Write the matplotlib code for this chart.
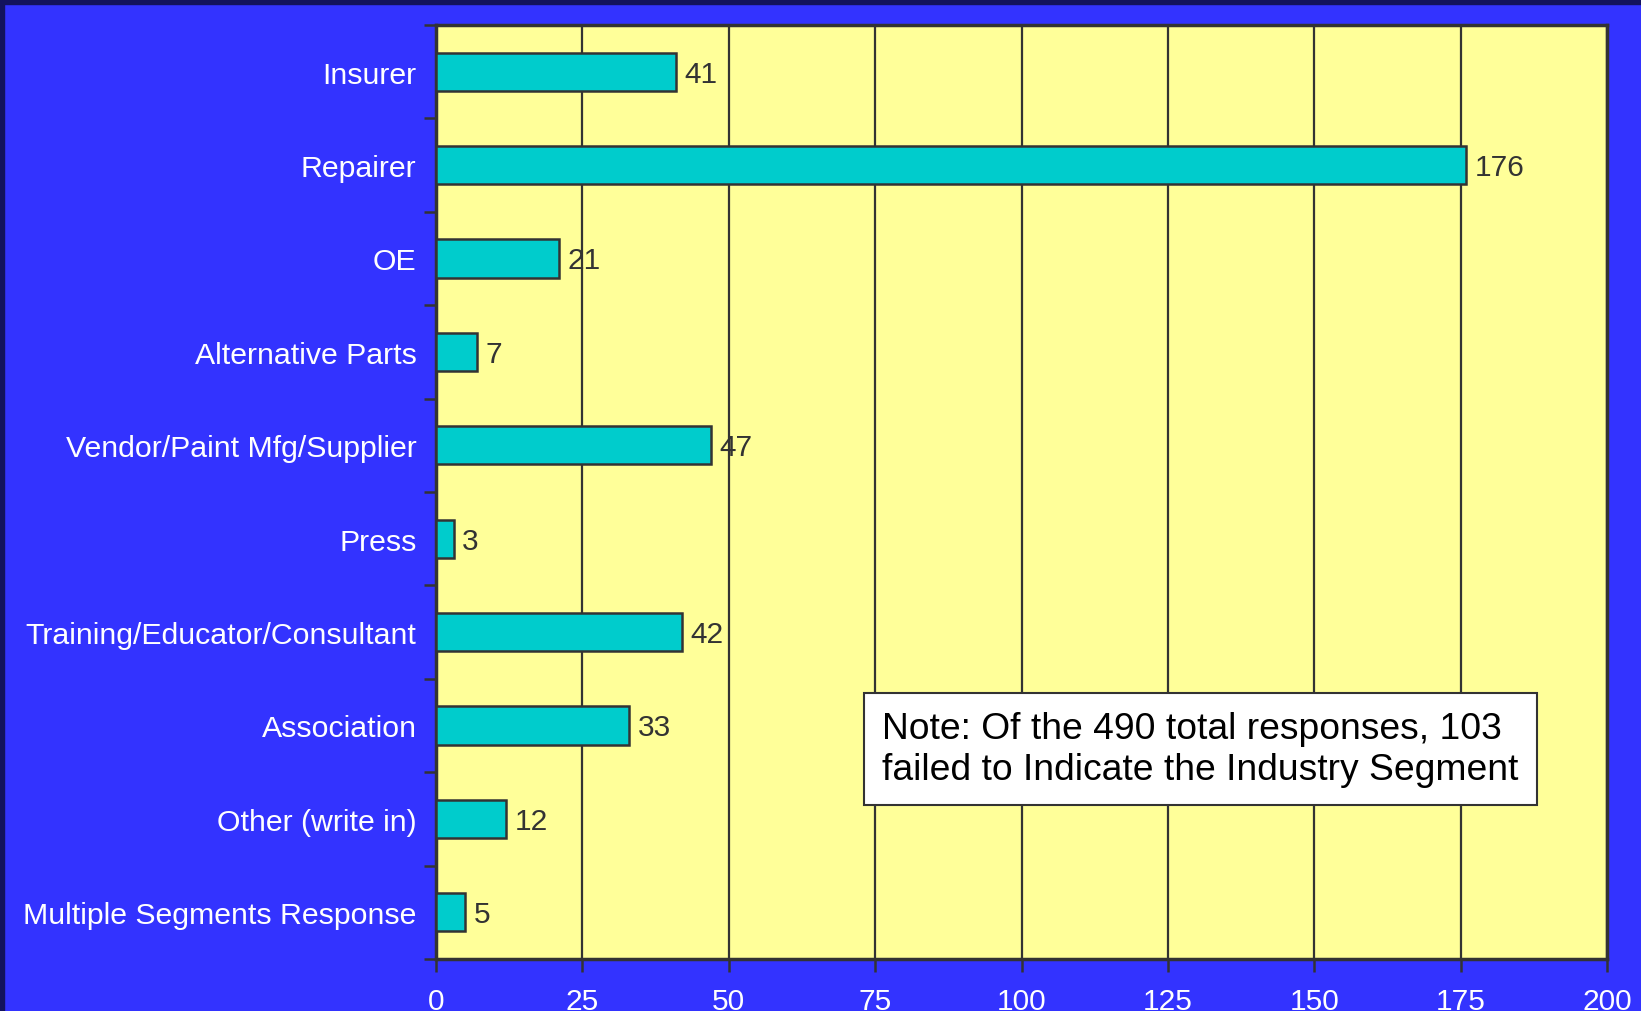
import matplotlib.pyplot as plt
from matplotlib.patches import Rectangle
import numpy as np

plt.rcParams['font.family'] = ['Liberation Sans', 'DejaVu Sans']

segments = ['Insurer', 'Repairer', 'OE', 'Alternative Parts',
            'Vendor/Paint Mfg/Supplier', 'Press',
            'Training/Educator/Consultant', 'Association',
            'Other (write in)', 'Multiple Segments Response']
counts = [41, 176, 21, 7, 47, 3, 42, 33, 12, 5]
x_ticks = [0, 25, 50, 75, 100, 125, 150, 175, 200]
note = 'Note: Of the 490 total responses, 103\nfailed to Indicate the Industry Segment'

fig = plt.figure(figsize=(16.41, 10.12), dpi=100, facecolor='#3333ff')
# dark strip along top and left edge
fig.patches.append(Rectangle((0, 1 - 5 / 1012), 1, 5 / 1012, transform=fig.transFigure,
                             color='#13135e', zorder=0))
fig.patches.append(Rectangle((0, 0), 4 / 1641, 1, transform=fig.transFigure,
                             color='#13135e', zorder=0))

ax = fig.add_axes([436 / 1641, 1 - 960 / 1012, (1607 - 436) / 1641, (960 - 26) / 1012])
ax.set_facecolor('#ffff99')

ypos = np.arange(len(segments))
ax.barh(ypos, counts, height=0.41, color='#00cccc', edgecolor='#333333',
        linewidth=1.8, zorder=3)
for y, v in zip(ypos, counts):
    ax.text(v + 1.4, y + 0.02, str(v), va='center', ha='left', fontsize=21.5,
            color='#333333', zorder=4)

ax.set_xlim(0, 200)
ax.set_ylim(len(segments) - 0.5, -0.5)
ax.set_xticks(x_ticks)
ax.set_xticklabels([str(t) for t in x_ticks], color='white', fontsize=21.5)
ax.tick_params(axis='x', length=9, width=1.8, color='#333333', pad=11, direction='out')

# category boundaries as major ticks, labels on minor ticks
ax.set_yticks(np.arange(-0.5, len(segments), 1.0))
ax.set_yticklabels([])
ax.set_yticks(ypos, minor=True)
ax.set_yticklabels(segments, minor=True, color='white', fontsize=21.8)
ax.tick_params(axis='y', which='major', length=9, width=1.8, color='#333333')
ax.tick_params(axis='y', which='minor', length=0, pad=14)

ax.grid(axis='x', color='#333333', linewidth=1.6, zorder=1)
ax.set_axisbelow(True)
for s in ax.spines.values():
    s.set_color('#333333')
    s.set_linewidth(2.5)

ax.text(0.381, 0.2248, note, transform=ax.transAxes, fontsize=26.8, color='black',
        va='center', ha='left', linespacing=1.2, zorder=5,
        bbox=dict(boxstyle='square,pad=0.5', facecolor='white', edgecolor='#333333',
                  linewidth=1.5))

fig.savefig('out.png', dpi=100, facecolor=fig.get_facecolor())
